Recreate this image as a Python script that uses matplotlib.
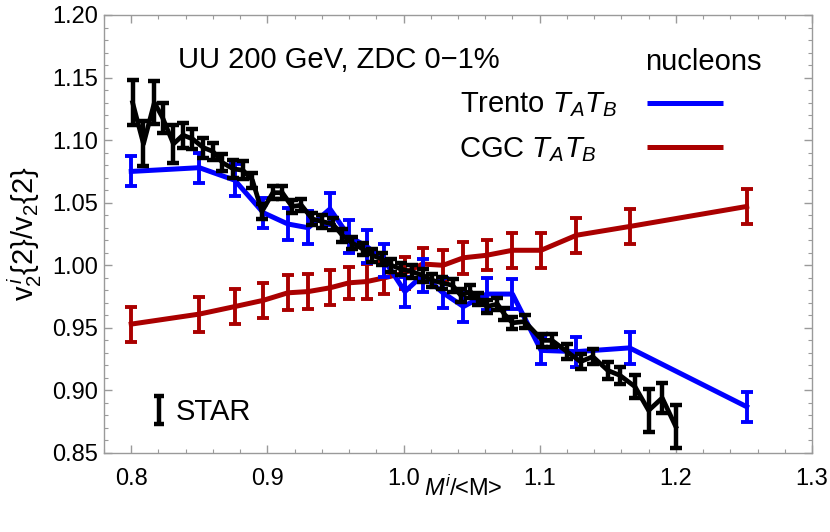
import matplotlib
matplotlib.use("Agg")
import matplotlib.pyplot as plt
from matplotlib.ticker import MultipleLocator, FormatStrFormatter

plt.rcParams['font.family'] = ['Liberation Sans', 'DejaVu Sans']
plt.rcParams['mathtext.fontset'] = 'custom'
plt.rcParams['mathtext.rm'] = 'Liberation Sans'
plt.rcParams['mathtext.it'] = 'Liberation Sans:italic'
plt.rcParams['mathtext.bf'] = 'Liberation Sans:bold'

# ---------------- data ----------------
model_x = [0.800, 0.850, 0.876, 0.897, 0.915, 0.930, 0.946, 0.960, 0.973, 0.986,
           1.001, 1.014, 1.029, 1.044, 1.061, 1.080, 1.101, 1.127, 1.166, 1.252]
trento_y = [1.075, 1.078, 1.068, 1.042, 1.033, 1.030, 1.045, 1.023, 1.015, 1.004,
            0.979, 0.992, 0.978, 0.967, 0.977, 0.977, 0.932, 0.931, 0.934, 0.887]
trento_err = [0.012, 0.012, 0.013, 0.012, 0.013, 0.013, 0.013, 0.013, 0.013, 0.013,
              0.012, 0.013, 0.012, 0.012, 0.013, 0.012, 0.011, 0.012, 0.013, 0.012]
cgc_y = [0.953, 0.961, 0.967, 0.972, 0.978, 0.979, 0.982, 0.986, 0.987, 0.990,
         0.994, 1.001, 1.000, 1.006, 1.008, 1.012, 1.012, 1.024, 1.031, 1.047]
cgc_err = [0.014, 0.014, 0.014, 0.014, 0.014, 0.014, 0.014, 0.013, 0.014, 0.013,
           0.013, 0.013, 0.012, 0.013, 0.012, 0.014, 0.014, 0.014, 0.014, 0.014]

star_x = [0.801, 0.809, 0.817, 0.823, 0.831, 0.838, 0.845, 0.853, 0.860, 0.867,
          0.875, 0.882, 0.889, 0.896, 0.904, 0.911, 0.918, 0.925, 0.933, 0.940,
          0.948, 0.955, 0.962, 0.970, 0.977, 0.984, 0.991, 0.998, 1.006, 1.014,
          1.021, 1.028, 1.036, 1.042, 1.049, 1.055, 1.061, 1.069, 1.074, 1.080,
          1.089, 1.102, 1.109, 1.120, 1.130, 1.139, 1.150, 1.159, 1.170, 1.180,
          1.190, 1.200]
star_y = [1.130, 1.097, 1.130, 1.118, 1.097, 1.104, 1.101, 1.094, 1.091, 1.082,
          1.077, 1.076, 1.068, 1.043, 1.058, 1.058, 1.047, 1.048, 1.037, 1.035,
          1.033, 1.024, 1.018, 1.013, 1.008, 1.005, 1.000, 0.997, 0.995, 0.992,
          0.988, 0.986, 0.984, 0.976, 0.979, 0.973, 0.967, 0.969, 0.961, 0.954,
          0.955, 0.940, 0.940, 0.931, 0.923, 0.927, 0.916, 0.912, 0.903, 0.884,
          0.894, 0.871]
star_err = [0.018, 0.018, 0.017, 0.012, 0.015, 0.010, 0.008, 0.008, 0.007, 0.007,
            0.007, 0.007, 0.006, 0.006, 0.005, 0.005, 0.005, 0.005, 0.005, 0.005,
            0.005, 0.005, 0.005, 0.005, 0.005, 0.005, 0.005, 0.005, 0.005, 0.005,
            0.005, 0.005, 0.005, 0.005, 0.005, 0.005, 0.005, 0.005, 0.005, 0.005,
            0.005, 0.005, 0.005, 0.006, 0.006, 0.006, 0.007, 0.007, 0.009, 0.017,
            0.012, 0.017]

RED = '#AA0000'
BLUE = '#0000FF'
FRAME = '#9a9a9a'

fig = plt.figure(figsize=(8.3, 5.32), dpi=100)
ax = fig.add_axes([104/830, 79/532, 708/830, 438/532])

ax.errorbar(model_x, cgc_y, yerr=cgc_err, color=RED, lw=3.6, elinewidth=2.8,
            capsize=4.2, capthick=2.8, zorder=2)
ax.errorbar(model_x, trento_y, yerr=trento_err, color=BLUE, lw=3.6, elinewidth=2.8,
            capsize=4.2, capthick=2.8, zorder=3)
ax.errorbar(star_x, star_y, yerr=star_err, color='black', lw=3.4, elinewidth=3.2,
            capsize=4.0, capthick=3.2, zorder=4)

ax.set_xlim(0.78, 1.30)
ax.set_ylim(0.85, 1.20)
ax.xaxis.set_major_locator(MultipleLocator(0.1))
ax.xaxis.set_minor_locator(MultipleLocator(0.02))
ax.yaxis.set_major_locator(MultipleLocator(0.05))
ax.yaxis.set_minor_locator(MultipleLocator(0.01))
ax.xaxis.set_major_formatter(FormatStrFormatter('%.1f'))
ax.yaxis.set_major_formatter(FormatStrFormatter('%.2f'))

for s in ax.spines.values():
    s.set_color(FRAME)
    s.set_linewidth(1.0)
ax.tick_params(which='both', direction='in', top=True, right=True, color=FRAME,
               labelsize=17, labelcolor='black')
ax.tick_params(which='major', length=5.5, width=1.0)
ax.tick_params(which='minor', length=3.0, width=0.8)
ax.tick_params(axis='x', which='both', pad=11)
ax.tick_params(axis='y', which='both', pad=4)

ax.set_xlabel(r'$M^{i}$/<M>', fontsize=17)
ax.xaxis.set_label_coords(0.508, -0.052)
ax.set_ylabel(r'$\mathrm{v}_2^{\,i}\{2\}/\mathrm{v}_2\{2\}$', fontsize=21)
ax.yaxis.set_label_coords(-0.085, 0.5)

# annotations / legend
ax.text(0.1045, 0.879, 'UU 200 GeV, ZDC 0\u22121%', transform=ax.transAxes,
        fontsize=21, ha='left', va='baseline')
ax.text(0.7641, 0.8744, 'nucleons', transform=ax.transAxes,
        fontsize=21, ha='left', va='baseline')
ax.text(0.5028, 0.7785, r'Trento $T_A T_B$', transform=ax.transAxes,
        fontsize=21, ha='left', va='baseline')
ax.text(0.5014, 0.6758, r'CGC $T_A T_B$', transform=ax.transAxes,
        fontsize=21, ha='left', va='baseline')
ax.plot([0.767, 0.874], [0.7998, 0.7998], transform=ax.transAxes, color=BLUE,
        lw=3.6, solid_capstyle='butt')
ax.plot([0.767, 0.874], [0.6993, 0.6993], transform=ax.transAxes, color=RED,
        lw=3.6, solid_capstyle='butt')
# STAR legend symbol
ax.plot([0.0777, 0.0777], [0.066, 0.130], transform=ax.transAxes, color='black',
        lw=3.2, solid_capstyle='butt')
ax.plot([0.0777, 0.0777], [0.066, 0.130], transform=ax.transAxes, color='black',
        ls='none', marker='_', ms=7.2, mew=3.2)
ax.text(0.1017, 0.0753, 'STAR', transform=ax.transAxes,
        fontsize=21, ha='left', va='baseline')

fig.savefig('out.png', dpi=100)
